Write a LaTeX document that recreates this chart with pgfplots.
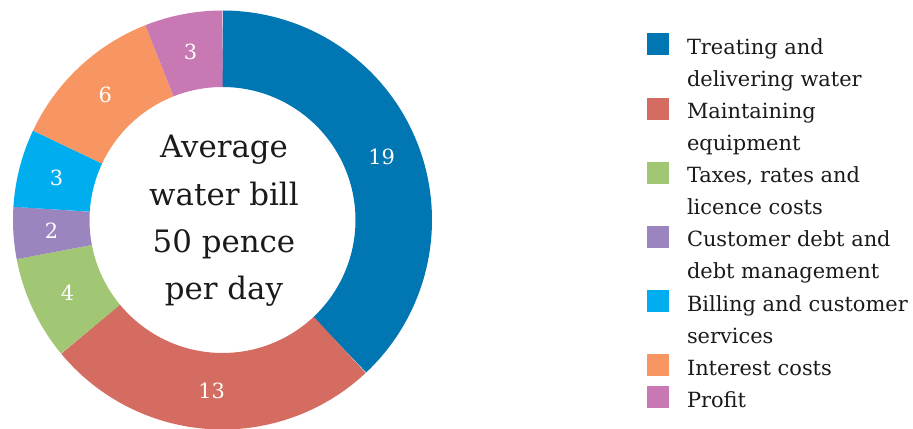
\documentclass[border=0pt]{standalone}
\usepackage{pgfplots}
\pgfplotsset{compat=1.18}
\usepackage{fontspec}
\setmainfont{DejaVu Serif}
\definecolor{cTreat}{RGB}{0,118,179}
\definecolor{cMaint}{RGB}{212,108,97}
\definecolor{cTax}{RGB}{162,199,116}
\definecolor{cDebt}{RGB}{155,133,190}
\definecolor{cBill}{RGB}{0,174,239}
\definecolor{cInt}{RGB}{247,150,98}
\definecolor{cProf}{RGB}{200,120,178}
\definecolor{txt}{RGB}{26,26,26}
% donut geometry (1 axis unit = 1bp): centre, middle radius, ring width
\newcommand{\dcx}{222.5}
\newcommand{\dcy}{209}
\newcommand{\drm}{171.25}
\newcommand{\slice}[3]{% colour, start, end (cumulative pence out of 50)
  \addplot[#1, line width=76.5bp, line cap=butt, line join=round, domain=#2:#3, samples=120]
    ({\dcx+\drm*sin(7.2*x)},{\dcy+\drm*cos(7.2*x)});}
\newcommand{\lbl}[2]{% mid value, text
  \node[white, font=\fontsize{21}{21}\selectfont, inner sep=0pt] at (axis cs:{\dcx+\drm*sin(7.2*#1)},{\dcy+\drm*cos(7.2*#1)}) {#2};}
\newcommand{\lstrut}{\rule[-9.6bp]{0pt}{32bp}}
\newcommand{\more}[1]{\addlegendimage{empty legend}\addlegendentry{\lstrut #1}}
\begin{document}
\begin{tikzpicture}
\useasboundingbox (0,0) rectangle (913bp,429bp);
\begin{axis}[
  at={(0,0)}, anchor=origin,
  scale only axis, width=913bp, height=429bp,
  xmin=0, xmax=913, ymin=0, ymax=429,
  hide axis, clip=false,
  legend image code/.code={\path[#1, draw=none, line width=0pt, fill] (0bp,-1bp) rectangle (22bp,21bp);},
  legend style={at={(0.708653,0.93)}, anchor=north west,
    draw=none, fill=none, inner sep=0pt, outer sep=0pt,
    row sep=4.2bp, column sep=16bp,
    cells={anchor=base west, inner sep=0pt, outer sep=0pt},
    font=\fontsize{21}{32}\selectfont, text=txt},
]
% values: 19, 13, 4, 2, 3, 6, 3 (pence per day, total 50)
\slice{cTreat}{0}{19}
\addlegendentry{\lstrut Treating and}
\more{delivering water}
\slice{cMaint}{19}{32}
\addlegendentry{\lstrut Maintaining}
\more{equipment}
\slice{cTax}{32}{36}
\addlegendentry{\lstrut Taxes, rates and}
\more{licence costs}
\slice{cDebt}{36}{38}
\addlegendentry{\lstrut Customer debt and}
\more{debt management}
\slice{cBill}{38}{41}
\addlegendentry{\lstrut Billing and customer}
\more{services}
\slice{cInt}{41}{47}
\addlegendentry{\lstrut Interest costs}
\slice{cProf}{47}{50}
\addlegendentry{\lstrut Profit}
\lbl{9.5}{19}
\lbl{25.5}{13}
\lbl{34}{4}
\lbl{37}{2}
\lbl{39.5}{3}
\lbl{44}{6}
\lbl{48.5}{3}
\node[anchor=base, text=txt, inner sep=0pt] at (axis cs:224,271)
  {\fontsize{31}{47.5}\selectfont\begin{tabular}[t]{@{}c@{}}Average\\water bill\\50 pence\\per day\end{tabular}};
\end{axis}
\end{tikzpicture}
\end{document}
